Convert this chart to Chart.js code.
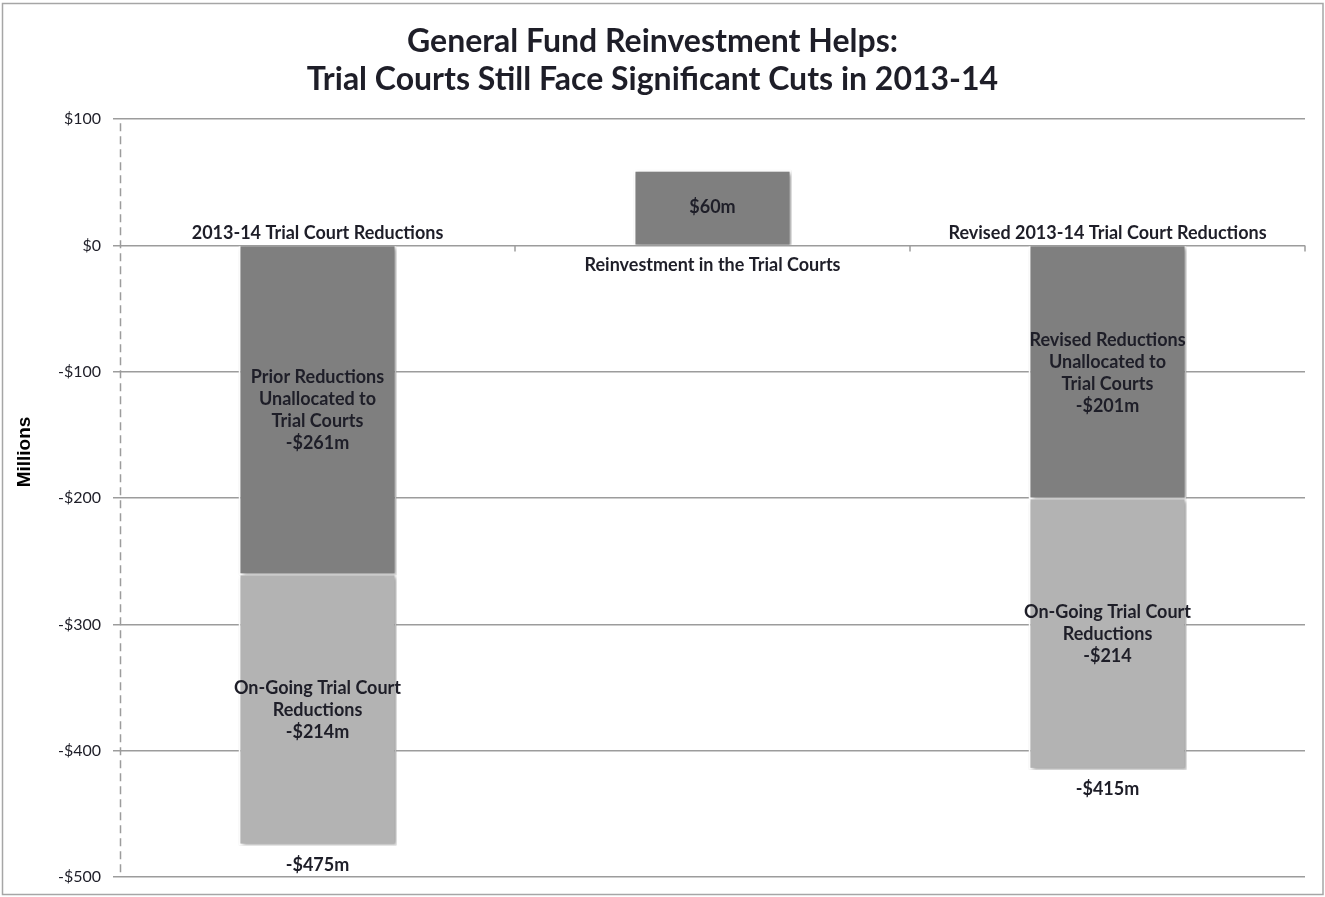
<!DOCTYPE html>
<html lang="en">
<head>
  <meta charset="UTF-8">
  <title>General Fund Reinvestment Helps</title>
  <style>
    body {
      margin: 0;
      background-color: #fff;
    }
    #chart {
      display: block;
    }
  </style>
</head>
<body>
  <canvas id="chart" width="1325" height="897"></canvas>

  <script src="https://cdn.jsdelivr.net/npm/chart.js"></script>
  <script>
    // chart data
    const categories = [
      "2013-14 Trial Court Reductions",
      "Reinvestment in the Trial Courts",
      "Revised 2013-14 Trial Court Reductions"
    ];
    const upperValues = [-261, 60, -201];   // dark gray part
    const lowerValues = [-214, 0, -214];    // light gray part
    const upperLabels = [
      ["Prior Reductions", "Unallocated to", "Trial Courts", "-$261m"],
      ["$60m"],
      ["Revised Reductions", "Unallocated to", "Trial Courts", "-$201m"]
    ];
    const lowerLabels = [
      ["On-Going Trial Court", "Reductions", "-$214m"],
      [],
      ["On-Going Trial Court", "Reductions", "-$214"]
    ];
    const totalLabels = ["-$475m", "", "-$415m"];
    const yTicks = [100, 0, -100, -200, -300, -400, -500];

    const FONT = "Lato, 'Open Sans', sans-serif";
    const TEXT = "#1e1e28";
    const GRID = "#9c9c9c";

    // gray frame around the whole picture, plus the rotated axis title
    const framePlugin = {
      id: "frame",
      afterDraw(chart) {
        const ctx = chart.ctx;
        ctx.save();
        ctx.strokeStyle = "#a6a6a6";
        ctx.lineWidth = 1.5;
        ctx.strokeRect(2.5, 3.5, chart.width - 4.5, chart.height - 6);

        ctx.translate(25, 452);
        ctx.rotate(-Math.PI / 2);
        ctx.font = "bold 19px 'Liberation Sans', Arial, sans-serif";
        ctx.fillStyle = "#000";
        ctx.textAlign = "center";
        ctx.textBaseline = "middle";
        ctx.fillText("Millions", 0, 0);
        ctx.restore();
      }
    };

    // soft shadow under the bars
    const shadowPlugin = {
      id: "barShadow",
      beforeDatasetsDraw(chart) {
        const ctx = chart.ctx;
        ctx.save();
        ctx.shadowColor = "rgba(0,0,0,0.35)";
        ctx.shadowBlur = 4;
        ctx.shadowOffsetX = 2;
        ctx.shadowOffsetY = 2;
      },
      afterDatasetsDraw(chart) {
        chart.ctx.restore();
      }
    };

    // dashed vertical axis line
    const axisPlugin = {
      id: "dashedAxis",
      beforeDatasetsDraw(chart) {
        const ctx = chart.ctx;
        const a = chart.chartArea;
        ctx.save();
        ctx.strokeStyle = GRID;
        ctx.lineWidth = 1.5;
        ctx.setLineDash([8, 5]);
        ctx.beginPath();
        ctx.moveTo(a.left + 0.5, a.top + 4);
        ctx.lineTo(a.left + 0.5, a.bottom);
        ctx.stroke();
        ctx.restore();
      }
    };

    // labels inside bars, category names at the zero line, totals under bars
    const labelPlugin = {
      id: "barLabels",
      afterDatasetsDraw(chart) {
        const ctx = chart.ctx;
        const y = chart.scales.y;
        const zero = y.getPixelForValue(0);
        const lineH = 22;
        ctx.save();
        ctx.font = "bold 18px " + FONT;
        ctx.fillStyle = TEXT;
        ctx.textAlign = "center";
        ctx.textBaseline = "middle";

        [upperLabels, lowerLabels].forEach((set, di) => {
          const meta = chart.getDatasetMeta(di);
          set.forEach((lines, i) => {
            if (!lines.length) return;
            const bar = meta.data[i];
            const cy = (bar.y + bar.base) / 2;
            const start = cy - (lines.length - 1) * lineH / 2;
            lines.forEach((t, k) => ctx.fillText(t, bar.x, start + k * lineH));
          });
        });

        categories.forEach((c, i) => {
          const x = chart.getDatasetMeta(0).data[i].x;
          const total = upperValues[i] + lowerValues[i];
          ctx.fillText(c, x, total < 0 ? zero - 12 : zero + 20);
          if (totalLabels[i]) {
            const bottom = y.getPixelForValue(total);
            ctx.fillText(totalLabels[i], x, bottom + 20);
          }
        });

        // small tick marks on the zero line between categories
        const x = chart.scales.x;
        ctx.strokeStyle = GRID;
        ctx.lineWidth = 1.5;
        for (let i = 1; i <= categories.length; i++) {
          const px = x.left + (x.right - x.left) * i / categories.length;
          ctx.beginPath();
          ctx.moveTo(px, zero);
          ctx.lineTo(px, zero + 6);
          ctx.stroke();
        }
        ctx.restore();
      }
    };

    new Chart(document.getElementById("chart"), {
      type: "bar",
      data: {
        labels: categories,
        datasets: [
          {
            label: "Unallocated reductions",
            data: upperValues,
            backgroundColor: "#7f7f7f",
            borderColor: "#ffffff",
            borderWidth: 2
          },
          {
            label: "On-going reductions",
            data: lowerValues,
            backgroundColor: "#b3b3b3",
            borderColor: "#ffffff",
            borderWidth: 2
          }
        ]
      },
      options: {
        responsive: false,
        animation: false,
        categoryPercentage: 1,
        barPercentage: 0.4,
        layout: {
          padding: { left: 0, right: 20, top: 0, bottom: 20 }
        },
        plugins: {
          legend: { display: false },
          tooltip: { enabled: false },
          title: {
            display: true,
            text: ["General Fund Reinvestment Helps:", "Trial Courts Still Face Significant Cuts in 2013-14"],
            color: TEXT,
            font: { family: FONT, size: 32, weight: "bold", lineHeight: 1.19 },
            padding: { top: 23, bottom: 20 }
          }
        },
        scales: {
          x: {
            display: false,
            stacked: true
          },
          y: {
            stacked: true,
            min: -500,
            max: 100,
            afterBuildTicks(scale) {
              scale.ticks = yTicks.map(v => ({ value: v }));
            },
            afterFit(scale) {
              scale.width = 120;
              scale.paddingTop = 0;
              scale.paddingBottom = 0;
            },
            ticks: {
              color: TEXT,
              padding: 12,
              font: { family: FONT, size: 16 },
              callback: v => (v < 0 ? "-$" + Math.abs(v) : "$" + v)
            },
            grid: {
              color: GRID,
              lineWidth: 1.5,
              tickLength: 7
            },
            border: {
              display: false
            }
          }
        }
      },
      plugins: [framePlugin, axisPlugin, shadowPlugin, labelPlugin]
    });
  </script>
</body>
</html>
